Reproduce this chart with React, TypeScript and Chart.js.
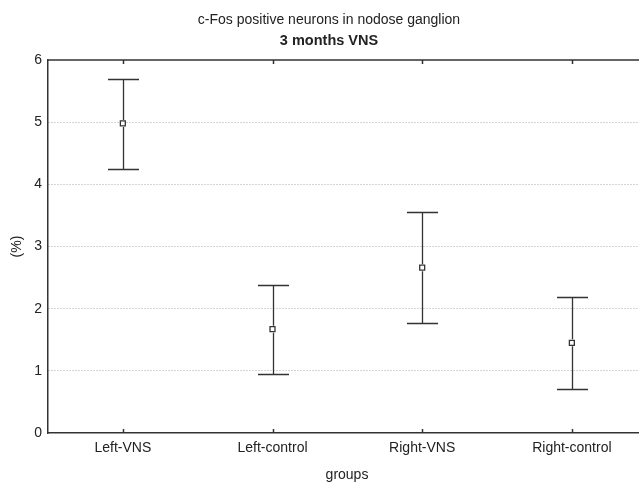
import React, { useEffect, useRef } from "react";
import { Chart, registerables } from "chart.js";

Chart.register(...registerables);

const groups = ["Left-VNS", "Left-control", "Right-VNS", "Right-control"];
const means = [4.98, 1.67, 2.66, 1.45];
const upper = [5.69, 2.38, 3.55, 2.18];
const lower = [4.25, 0.95, 1.77, 0.71];
const yTicks = [0, 1, 2, 3, 4, 5, 6];

const titleText = "c-Fos positive neurons in nodose ganglion";
const subtitleText = "3 months VNS";
const xTitle = "groups";
const yTitle = "(%)";

const FONT = "'Liberation Sans', Arial, sans-serif";
const DARK = "#333333";

const decorPlugin = {
  id: "decor",
  afterDatasetsDraw(chart: any) {
    const { ctx, chartArea, scales } = chart;
    const x = scales.x;
    const y = scales.y;
    ctx.save();
    ctx.strokeStyle = DARK;
    ctx.lineWidth = 1.3;
    for (let i = 0; i < groups.length; i++) {
      const px = Math.round(x.getPixelForValue(i)) + 0.5;
      const pu = Math.round(y.getPixelForValue(upper[i])) + 0.5;
      const pl = Math.round(y.getPixelForValue(lower[i])) + 0.5;
      const pm = y.getPixelForValue(means[i]);
      ctx.beginPath();
      ctx.moveTo(px, pu);
      ctx.lineTo(px, pm - 3.5);
      ctx.moveTo(px, pm + 3.5);
      ctx.lineTo(px, pl);
      ctx.moveTo(px - 15.5, pu);
      ctx.lineTo(px + 15.5, pu);
      ctx.moveTo(px - 15.5, pl);
      ctx.lineTo(px + 15.5, pl);
      ctx.stroke();
    }
    ctx.lineWidth = 1.5;
    ctx.beginPath();
    ctx.moveTo(chartArea.left, chartArea.top);
    ctx.lineTo(chartArea.right, chartArea.top);
    for (let i = 0; i < groups.length; i++) {
      const px = Math.round(x.getPixelForValue(i)) + 0.5;
      ctx.moveTo(px, chartArea.top);
      ctx.lineTo(px, chartArea.top + 4);
      ctx.moveTo(px, chartArea.bottom);
      ctx.lineTo(px, chartArea.bottom - 4);
    }
    ctx.stroke();
    ctx.restore();
  },
  afterDraw(chart: any) {
    const { ctx, chartArea } = chart;
    ctx.save();
    ctx.fillStyle = "#222222";
    ctx.textAlign = "center";
    ctx.textBaseline = "middle";
    ctx.font = `14px ${FONT}`;
    ctx.fillText(titleText, 329, 20);
    ctx.font = `bold 14.5px ${FONT}`;
    ctx.fillText(subtitleText, 329, 41);
    ctx.font = `14px ${FONT}`;
    ctx.fillText(xTitle, 347, 475);
    ctx.translate(17, (chartArea.top + chartArea.bottom) / 2);
    ctx.rotate(-Math.PI / 2);
    ctx.fillText(yTitle, 0, 0);
    ctx.restore();
  },
};

export default function App() {
  const ref = useRef<HTMLCanvasElement | null>(null);
  useEffect(() => {
    if (!ref.current) return;
    const chart = new Chart(ref.current, {
      type: "line",
      data: {
        labels: groups,
        datasets: [
          {
            data: means,
            showLine: false,
            pointStyle: "rect",
            pointRadius: 3.5,
            pointBackgroundColor: "#ffffff",
            pointBorderColor: DARK,
            pointBorderWidth: 1.3,
          },
        ],
      },
      options: {
        animation: false,
        responsive: false,
        layout: { padding: { top: 60, right: 0, left: 0, bottom: 0 } },
        plugins: { legend: { display: false }, tooltip: { enabled: false } },
        scales: {
          x: {
            type: "category",
            offset: true,
            afterFit: (s: any) => {
              s.height = 49;
            },
            grid: { display: false, drawTicks: false },
            border: { display: true, color: DARK, width: 1.5 },
            ticks: {
              color: "#222222",
              font: { family: FONT, size: 14 },
              padding: 7,
            },
          },
          y: {
            min: 0,
            max: 6,
            afterFit: (s: any) => {
              s.width = 48;
            },
            afterBuildTicks: (s: any) => {
              s.ticks = yTicks.map((v) => ({ value: v }));
            },
            grid: {
              drawTicks: false,
              color: (c: any) =>
                c.tick && (c.tick.value === 0 || c.tick.value === 6)
                  ? "rgba(0,0,0,0)"
                  : "#a8a8a8",
              lineWidth: 1,
            },
            border: { display: true, color: DARK, width: 1.5, dash: [1, 2] as any },
            ticks: {
              color: "#222222",
              font: { family: FONT, size: 14 },
              padding: 6,
            },
          },
        },
      },
      plugins: [decorPlugin],
    });
    return () => chart.destroy();
  }, []);
  return (
    <div
      style={{
        position: "absolute",
        left: 0,
        top: 0,
        width: 639,
        height: 482,
        overflow: "hidden",
        background: "#ffffff",
      }}
    >
      <canvas ref={ref} width={652} height={482} style={{ display: "block" }} />
    </div>
  );
}
